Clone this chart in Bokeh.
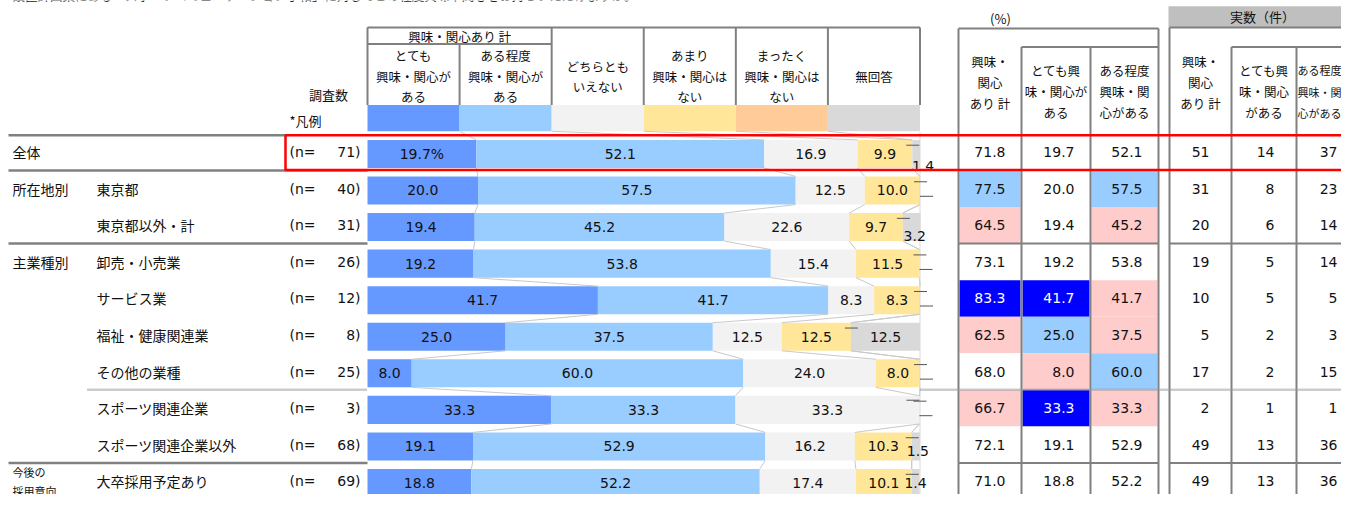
import numpy as np
from bokeh.plotting import figure
from bokeh.models import Range1d, ColumnDataSource
from bokeh.core.properties import value
from bokeh.embed import file_html
from bokeh.resources import INLINE

# ---------------- data ----------------
title_text = "設置計画案にある「スポーツコミュニケーション手帖」に対してどの程度興味や関心をお持ちいただけますか。"
legend_group = "興味・関心あり 計"
legend_labels = [["とても", "興味・関心が", "ある"],
                 ["ある程度", "興味・関心が", "ある"],
                 ["どちらとも", "いえない"],
                 ["あまり", "興味・関心は", "ない"],
                 ["まったく", "興味・関心は", "ない"],
                 ["無回答"]]
series_colors = ["#6699FF", "#99CCFF", "#F2F2F2", "#FFE699", "#FFCC99", "#D9D9D9"]

group_labels = ["全体", "所在地別", "", "主業種別", "", "", "", "", "", ""]
row_labels = ["", "東京都", "東京都以外・計", "卸売・小売業", "サービス業", "福祉・健康関連業",
              "その他の業種", "スポーツ関連企業", "スポーツ関連企業以外", "大卒採用予定あり"]
n_counts = [71, 40, 31, 26, 12, 8, 25, 3, 68, 69]

very = [19.7, 20.0, 19.4, 19.2, 41.7, 25.0, 8.0, 33.3, 19.1, 18.8]
some = [52.1, 57.5, 45.2, 53.8, 41.7, 37.5, 60.0, 33.3, 52.9, 52.2]
neutral = [16.9, 12.5, 22.6, 15.4, 8.3, 12.5, 24.0, 33.3, 16.2, 17.4]
little = [9.9, 10.0, 9.7, 11.5, 8.3, 12.5, 8.0, 0.0, 10.3, 10.1]
not_at_all = [0.0, 0.0, 0.0, 0.0, 0.0, 0.0, 0.0, 0.0, 0.0, 0.0]
no_answer = [1.4, 0.0, 3.2, 0.0, 0.0, 12.5, 0.0, 0.0, 1.5, 1.4]

pct_headers = [["興味・", "関心", "あり 計"], ["とても興", "味・関心が", "ある"], ["ある程度", "興味・関", "心がある"]]
pct_total = [71.8, 77.5, 64.5, 73.1, 83.3, 62.5, 68.0, 66.7, 72.1, 71.0]
pct_very = [19.7, 20.0, 19.4, 19.2, 41.7, 25.0, 8.0, 33.3, 19.1, 18.8]
pct_some = [52.1, 57.5, 45.2, 53.8, 41.7, 37.5, 60.0, 33.3, 52.9, 52.2]
hl_total = ["", "lb", "pk", "", "bl", "pk", "", "pk", "", ""]
hl_very = ["", "", "", "", "bl", "lb", "pk", "bl", "", ""]
hl_some = ["", "lb", "pk", "", "pk", "pk", "lb", "pk", "", ""]

cnt_headers = [["興味・", "関心", "あり 計"], ["とても興", "味・関心", "がある"], ["ある程度", "興味・関", "心がある"]]
cnt_total = [51, 31, 20, 19, 10, 5, 17, 2, 49, 49]
cnt_very = [14, 8, 6, 5, 5, 2, 2, 1, 13, 13]
cnt_some = [37, 23, 14, 14, 5, 3, 15, 1, 36, 36]

hl_colors = {"": "white", "lb": "#99CCFF", "pk": "#FFCCCC", "bl": "#0000FF"}

# ---------------- layout / style constants ----------------
JP = "Noto Sans CJK JP"
NUM = "DejaVu Sans"
GRID = "#808080"
X0, X1 = 367.0, 919.5           # position of 0% and 100%
SC = (X1 - X0) / 100.0
ROW0, PITCH = 156.6, 37.75      # centre of first row, row pitch
BOFF = 1.8 / PITCH
BH = 29.0 / PITCH
FW, FH = 1341, 494
# pixel offsets of the small outside labels (per row)
small_dx = [7, 0, 3, 0, 0, 0, 0, 0, 2, 0]
small_dy = [12, 0, 9, 0, 0, 0, 0, 0, 5, 0]


def to_row(py):
    return (py - ROW0) / PITCH


p = figure(width=FW, height=FH, output_backend="svg", toolbar_location=None,
           x_range=Range1d(0, FW), y_range=Range1d(510, 0),
           x_axis_type=None, y_axis_type=None, min_border=0, title=None)
p.outline_line_color = None
p.background_fill_color = "white"
p.border_fill_color = "white"
p.extra_x_ranges = {"pct": Range1d(start=(0 - X0) / SC, end=(FW - X0) / SC)}
p.extra_y_ranges = {"row": Range1d(start=to_row(510), end=to_row(0))}

nrows = len(very)
rows = np.arange(nrows)


def txt(xs, ys, texts, font=JP, size="12.5px", align="center", baseline="middle",
        color="#111111", xr="default", yr="default", xo=None, yo=None):
    d = dict(x=list(xs), y=list(ys), t=list(texts))
    d["c"] = list(color) if isinstance(color, (list, tuple)) else [color] * len(d["x"])
    d["xo"] = list(xo) if xo is not None else [0] * len(d["x"])
    d["yo"] = list(yo) if yo is not None else [0] * len(d["x"])
    p.text(x="x", y="y", text="t", source=ColumnDataSource(d), text_font=value(font),
           text_font_size=value(size), text_align=align, text_baseline=baseline,
           text_color="c", x_offset="xo", y_offset="yo", x_range_name=xr, y_range_name=yr)


def lines(x0, y0, x1, y1, color=GRID, width=2.0, dash="solid", xr="default", yr="default"):
    p.segment(x0=list(x0), y0=list(y0), x1=list(x1), y1=list(y1), line_color=color,
              line_width=width, line_dash=dash, x_range_name=xr, y_range_name=yr)


# ---------------- title (cut off at top, as in the source) ----------------
txt([12], [5], [title_text], size="12.5px", align="left", baseline="bottom", color="#222222")

# ---------------- table cell fills ----------------
tbl1_cols = [958, 1021, 1090, 1158]
tbl2_cols = [1169, 1231, 1296, 1359]
for j, flags in enumerate([hl_total, hl_very, hl_some]):
    p.quad(left=[tbl1_cols[j] + 1] * nrows, right=[tbl1_cols[j + 1] - 1] * nrows,
           top=list(rows - 0.5), bottom=list(rows + 0.5),
           fill_color=[hl_colors[f] for f in flags], line_color=None, y_range_name="row")

# ---------------- legend header table ----------------
edges = [k * 100.0 / 6 for k in range(7)]
p.quad(left=edges[:-1], right=edges[1:], top=[108] * 6, bottom=[135] * 6,
       fill_color=series_colors, line_color=None, x_range_name="pct")
lines([0, 0], [28, 45], [100, edges[2]], [28, 45], xr="pct")
lines(edges, [28, 45, 28, 28, 28, 28, 28], edges, [108] * 7, xr="pct")
txt([edges[1]], [37], [legend_group], xr="pct")
lx, ly, lt = [], [], []
for k, labs in enumerate(legend_labels):
    cx = (edges[k] + edges[k + 1]) / 2
    if len(labs) == 3:
        ys = [57, 78, 99]
    elif len(labs) == 2:
        ys = [68, 89]
    else:
        ys = [78]
    for s, y in zip(labs, ys):
        lx.append(cx); ly.append(y); lt.append(s)
txt(lx, ly, lt, xr="pct")
txt([328], [97], ["調査数"], size="13px")
txt([289], [124], ["*凡例"], size="13px", align="left")

# ---------------- bars ----------------
series = [very, some, neutral, little, not_at_all, no_answer]
vals = np.array(series).T            # rows x series
cum = np.cumsum(vals, axis=1)
left = cum - vals
yc = rows + BOFF
for s in range(6):
    p.hbar(y=list(yc), left=list(left[:, s]), right=list(cum[:, s]), height=BH,
           fill_color=series_colors[s], line_color=None,
           x_range_name="pct", y_range_name="row")

# series lines between consecutive bars (incl. legend swatches)
sx0, sy0, sx1, sy1 = [], [], [], []
for k in range(5):
    sx0.append(edges[k + 1]); sy0.append(to_row(135))
    sx1.append(cum[0, k]); sy1.append(yc[0] - BH / 2)
    for i in range(nrows - 1):
        sx0.append(cum[i, k]); sy0.append(yc[i] + BH / 2)
        sx1.append(cum[i + 1, k]); sy1.append(yc[i + 1] - BH / 2)
lines(sx0, sy0, sx1, sy1, color="#C9C9C9", width=1.0, xr="pct", yr="row")

# 100% reference line
lines([100], [to_row(136)], [100], [to_row(510)], color="#D9D9D9", width=1.0, xr="pct", yr="row")

# leader dashes for zero-valued segments
dash_rule = {3: (-13, 0, -10), 4: (-6, 7, -9), 5: (0, 13, 6)}
dx0, dy0, dx1, dy1 = [], [], [], []
for i in range(nrows):
    for s in (3, 4, 5):
        if vals[i, s] == 0:
            a, b, dy = dash_rule[s]
            dx0.append(cum[i, s] + a / SC); dx1.append(cum[i, s] + b / SC)
            dy0.append(yc[i] + dy / PITCH); dy1.append(yc[i] + dy / PITCH)
lines(dx0, dy0, dx1, dy1, color="#555555", width=1.0, xr="pct", yr="row")

# segment labels
bx, by, bt, bxo, byo = [], [], [], [], []
for i in range(nrows):
    for s in range(6):
        v = vals[i, s]
        if v <= 0:
            continue
        lab = f"{v:.1f}" + ("%" if (i == 0 and s == 0) else "")
        bx.append(left[i, s] + v / 2); by.append(yc[i]); bt.append(lab)
        small = v < 5
        bxo.append(small_dx[i] if small else 0); byo.append(small_dy[i] if small else 0)
txt(bx, by, bt, font=NUM, size="14px", xr="pct", yr="row", xo=bxo, yo=byo)

# ---------------- left labels ----------------
txt([12] * nrows, list(rows), group_labels, size="14px", align="left", yr="row")
txt([96] * nrows, list(rows), row_labels, size="14px", align="left", yr="row")
txt([12, 12], [487, 506], ["今後の", "採用意向"], size="11px", align="left")
txt([289] * nrows, list(rows), ["(n="] * nrows, font=NUM, size="14px", align="left", yr="row")
txt([360] * nrows, list(rows), [f"{n})" for n in n_counts], font=NUM, size="14px", align="right", yr="row")

# left separators
lines([8, 8, 8, 8], [to_row(139), 0.5, 2.5, 8.5], [285, 367, 367, 367], [to_row(139), 0.5, 2.5, 8.5],
      width=2.5, yr="row")
lines([87], [6.5], [367], [6.5], color="#999999", width=2.5, dash="1 1", yr="row")

# ---------------- right tables ----------------
# table 1 (%)
txt([1000], [19], ["(%)"], size="13px")
lines([958, 1021], [29, 48], [1158, 1158], [29, 48])
lines([958, 1021, 1090, 1158], [29, 48, 48, 29], [958, 1021, 1090, 1158], [510] * 4)
# table 2 (counts)
p.quad(left=[1168], right=[1360], top=[6], bottom=[28], fill_color="#BFBFBF", line_color=None)
txt([1262], [17], ["実数（件）"], size="13px")
lines([1169, 1231], [28, 48], [1360, 1360], [28, 48])
lines([1169, 1231, 1296], [28, 48, 48], [1169, 1231, 1296], [510] * 3)

hx, hy, ht = [], [], []
for t, (cols, heads) in enumerate(((tbl1_cols, pct_headers), (tbl2_cols, cnt_headers))):
    for j, labs in enumerate(heads):
        cx = (cols[j] + cols[j + 1]) / 2
        if t == 1 and j == 2:
            cx = 1319
        ys = [63, 85, 106] if j == 0 else [72, 94, 116]
        for s, y in zip(labs, ys):
            hx.append(cx); hy.append(y); ht.append(s)
txt(hx[:-3], hy[:-3], ht[:-3], size="12.5px")
txt(hx[-3:], hy[-3:], ht[-3:], size="11px")

# table separators
lines([958, 1169, 958, 1169], [2.5, 2.5, 8.5, 8.5], [1158, 1360, 1158, 1360], [2.5, 2.5, 8.5, 8.5], yr="row")
lines([920], [6.5], [1360], [6.5], color="#999999", width=2.5, dash="1 1", yr="row")

# table values
for j, (col_vals, flags) in enumerate(((pct_total, hl_total), (pct_very, hl_very), (pct_some, hl_some))):
    txt([tbl1_cols[j + 1] - 16] * nrows, list(rows), [f"{v:.1f}" for v in col_vals],
        font=NUM, size="14px", align="right", yr="row",
        color=["white" if f == "bl" else "#111111" for f in flags])
for j, col_vals in enumerate((cnt_total, cnt_very, cnt_some)):
    txt([tbl2_cols[j + 1] - 22] * nrows, list(rows), [str(v) for v in col_vals],
        font=NUM, size="14px", align="right", yr="row")

# ---------------- red highlight box ----------------
p.quad(left=[285], right=[1400], top=[139], bottom=[175], fill_color=None,
       line_color="#FF0000", line_width=2.5)

open("out.html", "w").write(file_html(p, INLINE))
